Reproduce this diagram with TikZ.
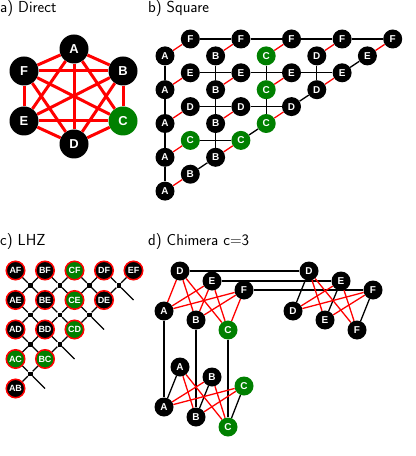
\documentclass[tikz,border=0pt]{standalone}
\usepackage{fontspec}
\usepackage{xcolor}
\usepackage{tikz}
\newfontfamily\lab{Liberation Sans}
\definecolor{grn}{RGB}{0,128,0}

\begin{document}
\begin{tikzpicture}[x=1bp,y=-1bp,
  ttl/.style={anchor=base west,inner sep=0pt,font=\sffamily\fontsize{16}{19}\selectfont},
  big/.style={circle,fill=black,text=white,inner sep=0pt,minimum size=29bp,font=\lab\bfseries\fontsize{13}{13}\selectfont},
  sml/.style={circle,fill=black,text=white,inner sep=0pt,minimum size=19bp,font=\lab\bfseries\fontsize{10}{10}\selectfont},
  lhz/.style={circle,fill=black,draw=red,line width=1.5bp,text=white,inner sep=0pt,minimum size=18.5bp,font=\lab\bfseries\fontsize{9}{9}\selectfont},
  grn/.style={fill=grn},
  jn/.style={rectangle,fill=black,inner sep=0pt,minimum size=4.5bp},
  thk/.style={red,line width=3bp},
  cpl/.style={red,line width=1.3bp},
  lnk/.style={black,line width=1.3bp}]
\useasboundingbox (0,0) rectangle (415,456);
%
\node[ttl] (ta) at (0,13) {a) Direct};
\node[ttl] (tb) at (148,13) {b) Square};
\node[ttl] (tc) at (0,245) {c) LHZ};
\node[ttl] (td) at (148,245) {d) Chimera c=3};
%
% a) direct
\node[big] (nA) at (74,49) {A};
\node[big] (nB) at (123,71) {B};
\node[big,grn] (nC) at (123,121) {C};
\node[big] (nD) at (74,144) {D};
\node[big] (nE) at (24,121) {E};
\node[big] (nF) at (24,71) {F};
%
\draw[thk] (nA) edge (nB);
\draw[thk] (nA) edge (nC);
\draw[thk] (nA) edge (nD);
\draw[thk] (nA) edge (nE);
\draw[thk] (nA) edge (nF);
\draw[thk] (nB) edge (nC);
\draw[thk] (nB) edge (nD);
\draw[thk] (nB) edge (nE);
\draw[thk] (nB) edge (nF);
\draw[thk] (nC) edge (nD);
\draw[thk] (nC) edge (nE);
\draw[thk] (nC) edge (nF);
\draw[thk] (nD) edge (nE);
\draw[thk] (nD) edge (nF);
\draw[thk] (nE) edge (nF);
%
% b) square
\begin{scope}[shift={(165,39)},x=25.3bp,y=-16.9bp]
\node[sml] (vA1) at (0,1) {A};
\node[sml] (vA2) at (0,3) {A};
\node[sml] (vA3) at (0,5) {A};
\node[sml] (vA4) at (0,7) {A};
\node[sml] (vA5) at (0,9) {A};
\node[sml] (vB1) at (2,1) {B};
\node[sml] (vB2) at (2,3) {B};
\node[sml] (vB3) at (2,5) {B};
\node[sml] (vB4) at (2,7) {B};
\node[sml,grn] (vC1) at (4,1) {C};
\node[sml,grn] (vC2) at (4,3) {C};
\node[sml,grn] (vC3) at (4,5) {C};
\node[sml] (vD1) at (6,1) {D};
\node[sml] (vD2) at (6,3) {D};
\node[sml] (vE1) at (8,1) {E};
%
\node[sml] (hF1) at (1,0) {F};
\node[sml] (hF2) at (3,0) {F};
\node[sml] (hF3) at (5,0) {F};
\node[sml] (hF4) at (7,0) {F};
\node[sml] (hF5) at (9,0) {F};
\node[sml] (hE1) at (1,2) {E};
\node[sml] (hE2) at (3,2) {E};
\node[sml] (hE3) at (5,2) {E};
\node[sml] (hE4) at (7,2) {E};
\node[sml] (hD1) at (1,4) {D};
\node[sml] (hD2) at (3,4) {D};
\node[sml] (hD3) at (5,4) {D};
\node[sml,grn] (hC1) at (1,6) {C};
\node[sml,grn] (hC2) at (3,6) {C};
\node[sml] (hB1) at (1,8) {B};
\end{scope}
%
\draw[lnk] (vA1) edge (vA2);
\draw[lnk] (vA2) edge (vA3);
\draw[lnk] (vA3) edge (vA4);
\draw[lnk] (vA4) edge (vA5);
\draw[lnk] (vB1) edge (vB2);
\draw[lnk] (vB2) edge (vB3);
\draw[lnk] (vB3) edge (vB4);
\draw[lnk] (vC1) edge (vC2);
\draw[lnk] (vC2) edge (vC3);
\draw[lnk] (vD1) edge (vD2);
\draw[lnk] (hF1) edge (hF2);
\draw[lnk] (hF2) edge (hF3);
\draw[lnk] (hF3) edge (hF4);
\draw[lnk] (hF4) edge (hF5);
\draw[lnk] (hE1) edge (hE2);
\draw[lnk] (hE2) edge (hE3);
\draw[lnk] (hE3) edge (hE4);
\draw[lnk] (hD1) edge (hD2);
\draw[lnk] (hD2) edge (hD3);
\draw[lnk] (hC1) edge (hC2);
\draw[lnk] (hB1) edge (vB4);
\draw[lnk] (hC2) edge (vC3);
\draw[lnk] (hD3) edge (vD2);
\draw[lnk] (hE4) edge (vE1);
%
\draw[cpl] (vA1) edge (hF1);
\draw[cpl] (vA2) edge (hE1);
\draw[cpl] (vA3) edge (hD1);
\draw[cpl] (vA4) edge (hC1);
\draw[cpl] (vA5) edge (hB1);
\draw[cpl] (vB1) edge (hF2);
\draw[cpl] (vB2) edge (hE2);
\draw[cpl] (vB3) edge (hD2);
\draw[cpl] (vB4) edge (hC2);
\draw[cpl] (vC1) edge (hF3);
\draw[cpl] (vC2) edge (hE3);
\draw[cpl] (vC3) edge (hD3);
\draw[cpl] (vD1) edge (hF4);
\draw[cpl] (vD2) edge (hE4);
\draw[cpl] (vE1) edge (hF5);
%
% c) LHZ
\begin{scope}[shift={(15.5,270.5)},x=29.5bp,y=-29.5bp]
\node[lhz] (AF) at (0,0) {AF};
\node[lhz] (BF) at (1,0) {BF};
\node[lhz,grn] (CF) at (2,0) {CF};
\node[lhz] (DF) at (3,0) {DF};
\node[lhz] (EF) at (4,0) {EF};
\node[lhz] (AE) at (0,1) {AE};
\node[lhz] (BE) at (1,1) {BE};
\node[lhz,grn] (CE) at (2,1) {CE};
\node[lhz] (DE) at (3,1) {DE};
\node[lhz] (AD) at (0,2) {AD};
\node[lhz] (BD) at (1,2) {BD};
\node[lhz,grn] (CD) at (2,2) {CD};
\node[lhz,grn] (AC) at (0,3) {AC};
\node[lhz,grn] (BC) at (1,3) {BC};
\node[lhz] (AB) at (0,4) {AB};
%
\node[jn] (j11) at (0.5,0.5) {};
\node[jn] (j21) at (1.5,0.5) {};
\node[jn] (j31) at (2.5,0.5) {};
\node[jn] (j41) at (3.5,0.5) {};
\node[jn] (j12) at (0.5,1.5) {};
\node[jn] (j22) at (1.5,1.5) {};
\node[jn] (j32) at (2.5,1.5) {};
\node[jn] (j13) at (0.5,2.5) {};
\node[jn] (j23) at (1.5,2.5) {};
\node[jn] (j14) at (0.5,3.5) {};
%
\coordinate (s41) at (4,1);
\coordinate (s32) at (3,2);
\coordinate (s23) at (2,3);
\coordinate (s14) at (1,4);
\end{scope}
%
\draw[lnk] (j11) edge (AF) (j11) edge (BF) (j11) edge (AE) (j11) edge (BE);
\draw[lnk] (j21) edge (BF) (j21) edge (CF) (j21) edge (BE) (j21) edge (CE);
\draw[lnk] (j31) edge (CF) (j31) edge (DF) (j31) edge (CE) (j31) edge (DE);
\draw[lnk] (j41) edge (DF) (j41) edge (EF) (j41) edge (DE) (j41) edge (s41);
\draw[lnk] (j12) edge (AE) (j12) edge (BE) (j12) edge (AD) (j12) edge (BD);
\draw[lnk] (j22) edge (BE) (j22) edge (CE) (j22) edge (BD) (j22) edge (CD);
\draw[lnk] (j32) edge (CE) (j32) edge (DE) (j32) edge (CD) (j32) edge (s32);
\draw[lnk] (j13) edge (AD) (j13) edge (BD) (j13) edge (AC) (j13) edge (BC);
\draw[lnk] (j23) edge (BD) (j23) edge (CD) (j23) edge (BC) (j23) edge (s23);
\draw[lnk] (j14) edge (AC) (j14) edge (BC) (j14) edge (AB) (j14) edge (s14);
%
% d) chimera, cell top left
\node[sml] (d1uD) at (180,271) {D};
\node[sml] (d1uE) at (212,281) {E};
\node[sml] (d1uF) at (244,290) {F};
\node[sml] (d1lA) at (164,311) {A};
\node[sml] (d1lB) at (196,320) {B};
\node[sml,grn] (d1lC) at (228,330) {C};
% cell top right
\node[sml] (d2uD) at (309,271) {D};
\node[sml] (d2uE) at (341,281) {E};
\node[sml] (d2uF) at (373,290) {F};
\node[sml] (d2lD) at (293,311) {D};
\node[sml] (d2lE) at (325,320) {E};
\node[sml] (d2lF) at (357,330) {F};
% cell bottom left
\node[sml] (d3uA) at (180,367) {A};
\node[sml] (d3uB) at (212,377) {B};
\node[sml,grn] (d3uC) at (244,386) {C};
\node[sml] (d3lA) at (164,407) {A};
\node[sml] (d3lB) at (196,417) {B};
\node[sml,grn] (d3lC) at (228,427) {C};
%
\draw[lnk] (d1uD) edge (d2uD);
\draw[lnk] (d1uE) edge (d2uE);
\draw[lnk] (d1uF) edge (d2uF);
\draw[lnk] (d1lA) edge (d3lA);
\draw[lnk] (d1lB) edge (d3lB);
\draw[lnk] (d1lC) edge (d3lC);
\draw[lnk] (d2uD) edge (d2lD);
\draw[lnk] (d2uE) edge (d2lE);
\draw[lnk] (d2uF) edge (d2lF);
\draw[lnk] (d3uA) edge (d3lA);
\draw[lnk] (d3uB) edge (d3lB);
\draw[lnk] (d3uC) edge (d3lC);
%
\draw[cpl] (d1uD) edge (d1lA) (d1uD) edge (d1lB) (d1uD) edge (d1lC);
\draw[cpl] (d1uE) edge (d1lA) (d1uE) edge (d1lB) (d1uE) edge (d1lC);
\draw[cpl] (d1uF) edge (d1lA) (d1uF) edge (d1lB) (d1uF) edge (d1lC);
\draw[cpl] (d2uD) edge (d2lE) (d2uD) edge (d2lF);
\draw[cpl] (d2uE) edge (d2lD) (d2uE) edge (d2lF);
\draw[cpl] (d2uF) edge (d2lD) (d2uF) edge (d2lE);
\draw[cpl] (d3uA) edge (d3lB) (d3uA) edge (d3lC);
\draw[cpl] (d3uB) edge (d3lA) (d3uB) edge (d3lC);
\draw[cpl] (d3uC) edge (d3lA) (d3uC) edge (d3lB);
%
\end{tikzpicture}
\end{document}
